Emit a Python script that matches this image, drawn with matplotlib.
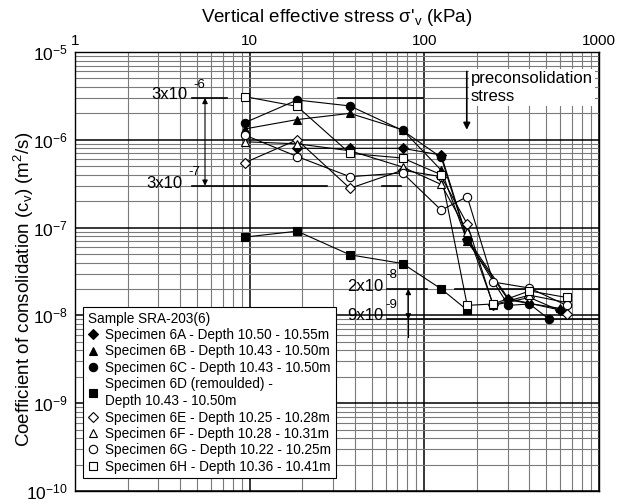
import matplotlib
matplotlib.use("Agg")
import matplotlib.pyplot as plt
import numpy as np

plt.rcParams['font.family'] = ['Liberation Sans', 'DejaVu Sans']
plt.rcParams['mathtext.fontset'] = 'custom'
plt.rcParams['mathtext.rm'] = 'Liberation Sans'
plt.rcParams['mathtext.it'] = 'Liberation Sans'

# values (stress in kPa, cv in m2/s)
x_6a = [18.7, 37.5, 75, 125, 176, 303, 600]
y_6a = [8.0e-7, 8.0e-7, 8.0e-7, 6.7e-7, 7.5e-8, 1.55e-8, 1.15e-8]
x_6b = [9.4, 18.7, 37.5, 75, 125, 176, 303, 600]
y_6b = [1.33e-6, 1.7e-6, 2.0e-6, 1.3e-6, 4.5e-7, 7.0e-8, 1.5e-8, 1.2e-8]
x_6c = [9.4, 18.7, 37.5, 75, 125, 176, 303, 400, 520]
y_6c = [1.57e-6, 2.84e-6, 2.43e-6, 1.28e-6, 6.3e-7, 7.2e-8, 1.3e-8, 1.35e-8, 9.0e-9]
x_6d = [9.4, 18.7, 37.5, 75, 125, 176]
y_6d = [7.8e-8, 9.1e-8, 4.9e-8, 3.9e-8, 2.0e-8, 1.15e-8]
x_6e = [9.4, 18.7, 37.5, 75, 125, 176, 248, 400, 653]
y_6e = [5.5e-7, 1.0e-6, 2.8e-7, 4.5e-7, 3.8e-7, 1.1e-7, 1.3e-8, 1.6e-8, 1.05e-8]
x_6f = [9.4, 18.7, 37.5, 75, 125, 176, 248, 400, 653]
y_6f = [9.5e-7, 9.0e-7, 7.5e-7, 4.9e-7, 3.1e-7, 9.0e-8, 1.32e-8, 1.7e-8, 1.4e-8]
x_6g = [9.4, 18.7, 37.5, 75, 125, 176, 248, 400, 653]
y_6g = [1.13e-6, 6.45e-7, 3.8e-7, 4.2e-7, 1.58e-7, 2.25e-7, 2.4e-8, 2.05e-8, 1.3e-8]
x_6h = [9.4, 18.7, 37.5, 75, 125, 176, 248, 400, 653]
y_6h = [3.1e-6, 2.4e-6, 7.0e-7, 6.2e-7, 4.0e-7, 1.3e-8, 1.35e-8, 1.9e-8, 1.6e-8]

labels = ['Specimen 6A - Depth 10.50 - 10.55m',
          'Specimen 6B - Depth 10.43 - 10.50m',
          'Specimen 6C - Depth 10.43 - 10.50m',
          'Specimen 6D (remoulded) -\nDepth 10.43 - 10.50m',
          'Specimen 6E - Depth 10.25 - 10.28m',
          'Specimen 6F - Depth 10.28 - 10.31m',
          'Specimen 6G - Depth 10.22 - 10.25m',
          'Specimen 6H - Depth 10.36 - 10.41m']

fig = plt.figure(figsize=(6.21, 4.99), dpi=100)
ax = fig.add_axes([75/621, 1-491/499, 524/621, 439/499])
ax.set_xscale('log')
ax.set_yscale('log')
ax.set_xlim(1, 1000)
ax.set_ylim(1e-10, 1e-5)

ax.grid(True, which='minor', color='#7a7a7a', lw=0.8)
ax.grid(True, which='major', color='black', lw=1.1)
ax.set_axisbelow(True)

series = [(x_6a, y_6a, 'D', 'black'), (x_6b, y_6b, '^', 'black'),
          (x_6c, y_6c, 'o', 'black'), (x_6d, y_6d, 's', 'black'),
          (x_6e, y_6e, 'D', 'white'), (x_6f, y_6f, '^', 'white'),
          (x_6g, y_6g, 'o', 'white'), (x_6h, y_6h, 's', 'white')]
handles = []
for (xs, ys, m, fc), lab in zip(series, labels):
    ms = 5 if m == 'D' else 6
    ax.plot(xs, ys, '-', color='black', lw=0.8, zorder=3)
    h, = ax.plot(xs, ys, ls='none', marker=m, ms=ms, mfc=fc, mec='black',
                 mew=0.8, zorder=4, label=lab)
    handles.append(h)

# reference lines and arrows
lk = dict(color='black', lw=1.2, zorder=2)
ax.plot([4.7, 7.4], [3e-6, 3e-6], **lk)
ax.plot([32, 98], [3e-6, 3e-6], **lk)
ax.plot([4.7, 27.7], [3e-7, 3e-7], **lk)
ax.plot([57, 74], [3e-7, 3e-7], **lk)
ax.annotate('', xy=(5.55, 3e-7), xytext=(5.55, 3e-6),
            arrowprops=dict(arrowstyle='<|-|>', color='black', lw=0.8,
                            mutation_scale=8, shrinkA=0, shrinkB=0))
ax.plot([61, 103], [2e-8, 2e-8], **lk)
ax.plot([150, 1000], [2e-8, 2e-8], **lk)
ax.plot([61, 1000], [9e-9, 9e-9], **lk)
ax.plot([81, 81], [9e-9, 5.7e-9], color='black', lw=0.8)
ax.annotate('', xy=(81, 9e-9), xytext=(81, 2e-8),
            arrowprops=dict(arrowstyle='<|-|>', color='black', lw=0.8,
                            mutation_scale=8, shrinkA=0, shrinkB=0))

tk = dict(fontsize=12, ha='right', va='baseline')
sk = dict(fontsize=9.5, ha='left', va='baseline')
ax.text(4.38, 2.95e-6, '3x10', **tk)
ax.text(4.74, 3.9e-6, '-6', **sk)
ax.text(4.10, 2.85e-7, '3x10', **tk)
ax.text(4.44, 4.0e-7, '-7', **sk)
ax.text(58, 1.9e-8, '2x10', **tk)
ax.text(60, 2.65e-8, '-8', **sk)
ax.text(58, 8.9e-9, '9x10', **tk)
ax.text(60, 1.2e-8, '-9', **sk)

ax.annotate('', xy=(175, 1.3e-6), xytext=(175, 6e-6),
            arrowprops=dict(arrowstyle='-|>', color='black', lw=1.2,
                            mutation_scale=10, shrinkA=0, shrinkB=0))
ax.text(184, 6.0e-6, 'preconsolidation\nstress', fontsize=12, ha='left',
        va='top', linespacing=1.2, zorder=5,
        bbox=dict(facecolor='white', edgecolor='none', pad=1.5))

# axes and ticks
ax.xaxis.tick_top()
ax.xaxis.set_label_position('top')
ax.tick_params(axis='x', which='both', length=0, labelsize=11, pad=3)
ax.tick_params(axis='y', which='both', length=0, labelsize=12.5, pad=5)
ax.set_xticks([1, 10, 100, 1000])
ax.set_xticklabels(['1', '10', '100', '1000'])
ax.set_xlabel("Vertical effective stress $\\sigma$'$_v$ (kPa)", fontsize=13.5)
ax.xaxis.set_label_coords(0.5, 1.0 + 30/439)
ax.set_ylabel('Coefficient of consolidation (c$_v$) (m$^2$/s)', fontsize=13.5)
ax.yaxis.set_label_coords(-39/524, 0.46)
for s in ax.spines.values():
    s.set_linewidth(1.0)

leg = ax.legend(handles=handles, title='Sample SRA-203(6)', loc='lower left',
                bbox_to_anchor=(0.015, 0.029), fontsize=9.8, title_fontsize=9.8,
                frameon=True, fancybox=False, edgecolor='black', framealpha=1,
                handlelength=0.8, handletextpad=0.5, borderpad=0.35,
                labelspacing=0.17, borderaxespad=0)
leg._legend_box.align = 'left'
for t in leg.get_texts():
    t.set_linespacing(1.3)
leg.get_frame().set_linewidth(0.8)
leg.set_zorder(6)

fig.savefig('out.png', dpi=100)
